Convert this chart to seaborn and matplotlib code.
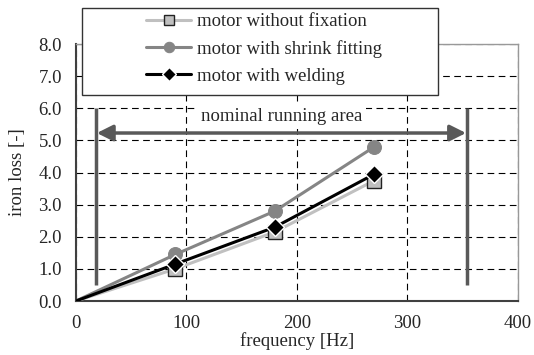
import numpy as np
import pandas as pd
import seaborn as sns
import matplotlib.pyplot as plt
from matplotlib.patches import Rectangle

freq = [0, 90, 180, 270]
loss_no_fix = [0.0, 1.0, 2.15, 3.75]
loss_shrink = [0.0, 1.45, 2.8, 4.8]
loss_weld = [0.0, 1.15, 2.3, 3.95]
series_names = ['motor without fixation', 'motor with shrink fitting', 'motor with welding']
area_start, area_end = 18, 354

sns.set_style('white')
plt.rcParams['font.family'] = ['Liberation Serif', 'DejaVu Serif']
plt.rcParams['font.size'] = 13.5

fig = plt.figure(figsize=(5.34, 3.55), dpi=100)
ax = fig.add_axes([0.142, 0.152, 0.828, 0.724])

styles = [
    dict(color='#c0c0c0', marker='s', markersize=10, markerfacecolor='#c0c0c0',
         markeredgecolor='#222222', markeredgewidth=1.0),
    dict(color='#858585', marker='o', markersize=10, markerfacecolor='#858585',
         markeredgecolor='#858585'),
    dict(color='black', marker='D', markersize=9, markerfacecolor='black',
         markeredgecolor='white', markeredgewidth=1.0),
]
for name, vals, st in zip(series_names, [loss_no_fix, loss_shrink, loss_weld], styles):
    df = pd.DataFrame({'f': freq, 'loss': vals})
    sns.lineplot(data=df, x='f', y='loss', ax=ax, label=name, linewidth=2.2,
                 markevery=[1, 2, 3], legend=False, zorder=3, **st)

ax.set_xlim(0, 400)
ax.set_ylim(0, 8)
ax.set_xticks([0, 100, 200, 300, 400])
ax.set_yticks(np.arange(0, 8.01, 1.0))
ax.set_yticklabels([f'{v:.1f}' for v in np.arange(0, 8.01, 1.0)])
ax.grid(True, color='black', linestyle=(0, (6, 4)), linewidth=0.8)
ax.tick_params(axis='y', length=0, pad=10)
ax.tick_params(axis='x', length=0, pad=10)
ax.set_xlabel('frequency [Hz]', labelpad=0.5)
ax.set_ylabel('iron loss [-]', labelpad=9)

for side in ['left', 'bottom']:
    ax.spines[side].set_color('#404040')
    ax.spines[side].set_linewidth(1.5)
for side in ['top', 'right']:
    ax.spines[side].set_color('#999999')
    ax.spines[side].set_linewidth(1.0)

# nominal running area
ax.vlines([area_start, area_end], 0.5, 6.0, color='#595959', linewidth=2.5, zorder=2)
ax.annotate('', xy=(area_start + 1, 5.23), xytext=(area_end - 1, 5.23),
            arrowprops=dict(arrowstyle='<|-|>', color='#595959', lw=2.5,
                            mutation_scale=24, shrinkA=0, shrinkB=0), zorder=2)
ax.text((area_start + area_end) / 2, 5.75, 'nominal running area', ha='center',
        va='center', zorder=2,
        bbox=dict(facecolor='white', edgecolor='none', pad=3))

# legend box is wider than its entries
fig.patches.append(Rectangle((82 / 534, 1 - 95 / 355), 356 / 534, 87 / 355,
                             transform=fig.transFigure, facecolor='white',
                             edgecolor='#333333', linewidth=1.0, zorder=5))
h, l = ax.get_legend_handles_labels()
leg = fig.legend(h, l, loc='upper left', bbox_to_anchor=(146 / 534, 1 - 13 / 355),
                 frameon=False, handlelength=2.4, labelspacing=0.52, borderpad=0,
                 handletextpad=0.3, borderaxespad=0, markerscale=0.75)
leg.set_zorder(6)

fig.savefig('out.png', dpi=100)
